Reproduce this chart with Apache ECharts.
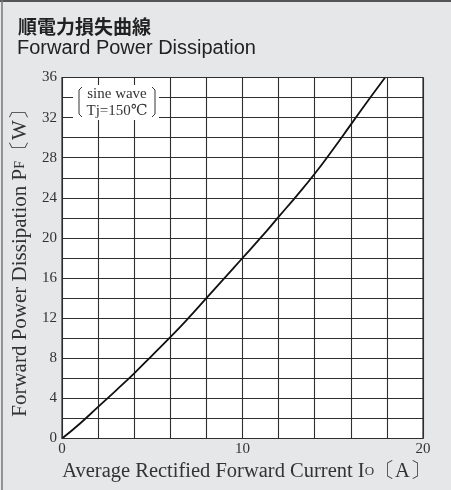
<!DOCTYPE html>
<html>
<head>
<meta charset="utf-8">
<script src="https://cdn.jsdelivr.net/npm/echarts@6/dist/echarts.min.js"></script>
<style>
html,body{margin:0;padding:0;background:#e6e7e9;}
#chart{width:451px;height:490px;}
</style>
</head>
<body>
<div id="chart"></div>
<script>
const titleJa = '順電力損失曲線';
const titleEn = 'Forward Power Dissipation';
const currentA = [0, 1, 2, 3, 4, 5, 6, 7, 8, 9, 10, 11, 12, 13, 14, 15, 16, 17, 17.9];
const powerW = [0, 1.5, 3.15, 4.8, 6.5, 8.3, 10.1, 12.0, 14.0, 16.0, 18.0, 20.0, 22.1, 24.2, 26.4, 28.8, 31.3, 33.8, 36];
const xLabels = [0, 10, 20];
const yLabels = [0, 4, 8, 12, 16, 20, 24, 28, 32, 36];
const noteLines = ['sine wave', 'Tj=150℃'];

const serif = '"Liberation Serif", "DejaVu Serif", serif';
const chart = echarts.init(document.getElementById('chart'), null, {renderer: 'canvas'});
const pts = currentA.map((x, i) => [x, powerW[i]]);

chart.setOption({
  backgroundColor: '#e6e7e9',
  animation: false,
  grid: {left: 62, right: 28, top: 77.5, bottom: 51.5},
  xAxis: {
    type: 'value', min: 0, max: 20, interval: 2,
    name: '{n|Average Rectified Forward Current I}{s|O}{n|〔A〕}',
    nameLocation: 'middle', nameGap: 19,
    nameTextStyle: {padding: [0, 0, 0, 8], rich: {
      n: {fontFamily: serif, fontSize: 20.5, color: '#333'},
      s: {fontFamily: serif, fontSize: 13, color: '#333'}
    }},
    axisLine: {show: false},
    axisTick: {show: false},
    axisLabel: {
      fontFamily: serif, fontSize: 15, color: '#333', margin: 3,
      formatter: v => xLabels.includes(v) ? String(v) : ''
    },
    splitLine: {show: true, lineStyle: {color: '#2e2e2e', width: 1.1}}
  },
  yAxis: {
    type: 'value', min: 0, max: 36, interval: 2,
    name: '{n|Forward Power Dissipation P}{s|F}{n|〔W〕}',
    nameLocation: 'middle', nameGap: 25, nameRotate: 90,
    nameTextStyle: {rich: {
      n: {fontFamily: serif, fontSize: 21, color: '#333'},
      s: {fontFamily: serif, fontSize: 14, color: '#333'}
    }},
    axisLine: {show: false},
    axisTick: {show: false},
    axisLabel: {
      fontFamily: serif, fontSize: 15, color: '#333', margin: 5,
      formatter: v => yLabels.includes(v) ? String(v) : ''
    },
    splitLine: {show: true, lineStyle: {color: '#2e2e2e', width: 1.1}}
  },
  series: [{
    type: 'line', data: pts, smooth: true, showSymbol: false, symbol: 'none',
    lineStyle: {color: '#111', width: 1.8}, clip: true, z: 5
  }],
  graphic: [
    {type: 'rect', shape: {x: 62, y: 77.5, width: 361, height: 361}, style: {fill: '#fff'}, z: -1, silent: true},
    {type: 'rect', shape: {x: 62, y: 77.5, width: 361, height: 361}, style: {fill: 'none', stroke: '#2e2e2e', lineWidth: 1.2}, z: 10, silent: true},
    {type: 'line', shape: {x1: 0, y1: 1, x2: 451, y2: 1}, style: {stroke: '#555', lineWidth: 2}},
    {type: 'line', shape: {x1: 2, y1: 0, x2: 2, y2: 490}, style: {stroke: '#777', lineWidth: 1.5}},
    {type: 'text', left: 18, top: 17, style: {text: titleJa, font: '600 19px "Noto Sans CJK JP", sans-serif', fill: '#222'}},
    {type: 'text', left: 17, top: 38, style: {text: titleEn, font: '20px "Liberation Sans", Arial, sans-serif', fill: '#222'}},
    {type: 'rect', shape: {x: 73, y: 85, width: 86, height: 35}, style: {fill: '#fff'}, z: 20},
    {type: 'polyline', shape: {points: [[82, 87], [79, 90], [79, 114], [82, 117]]}, style: {stroke: '#333', lineWidth: 1, fill: null}, z: 21},
    {type: 'polyline', shape: {points: [[152, 87], [155, 90], [155, 114], [152, 117]]}, style: {stroke: '#333', lineWidth: 1, fill: null}, z: 21},
    {type: 'text', x: 117, y: 94, style: {text: noteLines[0], font: '15px ' + serif, fill: '#333', textAlign: 'center', textVerticalAlign: 'middle'}, z: 21},
    {type: 'text', x: 117, y: 111, style: {text: noteLines[1], font: '15px ' + serif, fill: '#333', textAlign: 'center', textVerticalAlign: 'middle'}, z: 21}
  ]
});
</script>
</body>
</html>
